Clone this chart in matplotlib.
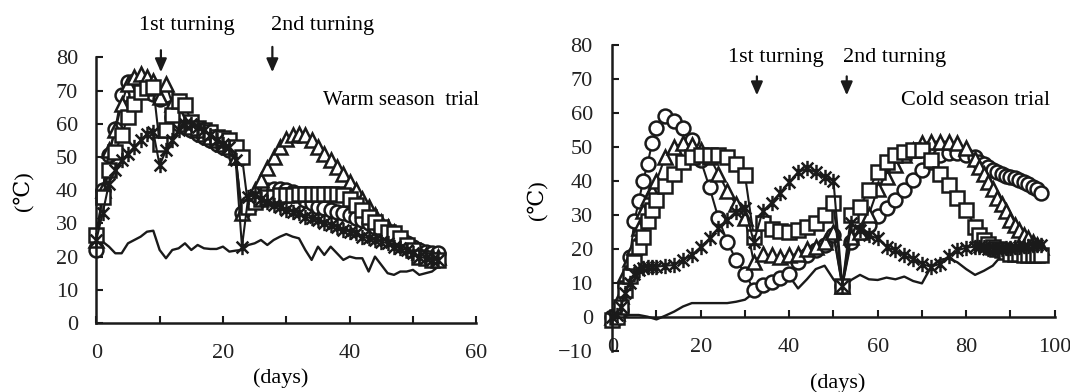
import numpy as np
import matplotlib
matplotlib.use("Agg")
import matplotlib.pyplot as plt
from matplotlib.path import Path

plt.rcParams["font.family"] = ["Liberation Serif", "DejaVu Serif", "DejaVu Sans"]
plt.rcParams["axes.unicode_minus"] = True

# ---- warm season trial (daily) ----
w_days = list(range(0, 55))
w_circle = [22, 40, 50.5, 58.5, 68.7, 72.5, 73, 72, 70, 69, 67.5, 68.7, 62, 60, 59, 58, 57, 56, 55, 54,
            53, 52, 50, 33, 36, 38, 39.5, 40, 40.5, 40.5, 40, 39.5, 39, 37, 36, 35, 34.5, 34, 33.5, 33,
            32.5, 31.5, 31, 30, 29, 28, 27, 26, 25, 24, 23, 22, 21.5, 21, 21]
w_triangle = [25, 40, 52, 58, 66, 72, 74, 75, 74, 73, 68, 72, 66, 63, 60, 59, 58, 57, 56, 55,
              54, 53, 50, 33, 36, 40, 43, 46.6, 50, 53, 55.5, 56.6, 57, 56.5, 55, 53, 51, 49, 47, 45,
              42.5, 40, 37.5, 35, 32.5, 30.5, 29, 27.5, 26, 24.5, 23, 21.5, 20.5, 20, 20]
w_square = [26.5, 38, 46, 51.5, 56.6, 62, 66, 69.7, 70.7, 71, 54, 58, 62.6, 67, 65.6, 60.6, 58.6, 58, 57.6, 56,
            55.6, 55, 53, 50, 35, 36.5, 37.5, 38, 38, 38.5, 38.5, 38.5, 39, 39, 39, 39, 39, 39, 39, 38.5,
            37.5, 35.5, 34, 32, 30.5, 29, 27.5, 27, 25.5, 23.5, 22, 20, 19.5, 19, 19]
w_star = [25, 33, 42, 46, 49, 51, 53, 55, 57, 57.5, 47.5, 52, 55, 58, 60, 60, 59, 58, 56.5, 55,
          54, 53, 49, 23, 38, 38.5, 37.5, 36.5, 35.5, 35, 34, 33.5, 33, 32, 31.5, 31, 30, 29.5, 29, 28,
          27.5, 27, 26, 25.5, 25, 24.5, 24, 23, 22.5, 22, 21, 20, 19.5, 19, 19]
w_air = [22, 24.5, 23, 21, 21, 24, 25, 26, 27.5, 27.8, 22, 19.5, 22, 22.5, 24, 22, 23.5, 22.5, 22.3, 22.3,
         23, 21.5, 21.8, 22, 23.5, 24, 25, 23.5, 25, 26, 26.8, 26, 25.5, 22, 19, 23, 20.5, 23, 21, 19,
         20, 19.5, 19.5, 15.5, 20, 17.5, 15, 14.5, 15.5, 15.5, 16, 14.5, 15, 15.5, 17]

# ---- cold season trial ----
c_days = [0, 1, 2, 3, 4, 5, 6, 7, 8, 9, 10, 12, 14, 16, 18, 20, 22, 24, 26, 28, 30, 32, 34, 36, 38, 40,
          42, 44, 46, 48, 50, 52, 54, 56, 58, 60, 62, 64, 66, 68, 70, 72, 74, 76, 78, 80, 82, 83, 84,
          85, 86, 87, 88, 89, 90, 91, 92, 93, 94, 95, 96, 97]
c_circle = [0, 0, 2, 9, 17.5, 28, 34, 40, 45, 51, 55.5, 59, 57.5, 55.5, 52, 46, 38, 29, 22, 16.7, 12.7, 8,
            9.3, 10.3, 11.3, 12.5, 16, 18, 19.5, 21, 24, 9, 22, 25, 27, 29.5, 32, 34.3, 37.3, 40.2, 43.1,
            45.6, 47.5, 48, 48, 47.5, 47, 45.5, 45, 44, 43, 42.5, 42, 41.5, 41, 40.7, 40.3, 39.5, 39, 38,
            37.5, 36.5]
c_triangle = [0, 1, 6, 12.7, 17, 20.6, 26, 31, 35, 37, 40, 47, 50, 51, 50.5, 49, 47, 42, 37, 33, 29, 16,
              18.5, 18, 17.6, 18, 18.5, 20, 20.5, 22, 25, 9, 23.5, 25, 30, 37.5, 41, 44.5, 47.5, 49, 51,
              51.5, 51.5, 51.5, 51, 49.5, 46.5, 44, 42, 39.7, 37.5, 35, 33, 31, 28.5, 27, 25.5, 24, 23,
              22, 21, 20.5]
c_square = [-1, 0, 3, 8, 12, 16, 20.5, 23.5, 28, 31.5, 34.3, 38.5, 42, 45.5, 47, 47.5, 47.5, 47.5, 47, 45,
            41.7, 23.5, 27.5, 25.8, 25.3, 25, 25.5, 26.5, 27.5, 30, 33.3, 9, 30, 32.4, 37.3, 42.6, 45.6,
            47.5, 48.5, 49, 49, 46, 42, 38.7, 34.8, 31.4, 26.5, 24, 22.5, 21.5, 20.6, 20, 19.5, 19, 18.5,
            18.5, 18.3, 18.2, 18, 18, 18, 18]
c_star = [0, 0.5, 3, 7, 10, 12.5, 13.8, 14.2, 14.7, 14.7, 14.7, 15, 15.2, 16.7, 18.1, 20.5, 23, 26, 28.4,
          30.9, 32, 22, 31, 33.5, 36.5, 39.5, 42.5, 43.6, 42.5, 41, 40, 9, 27.5, 25.5, 24, 23, 20.5, 19.5,
          18, 17, 15.5, 14.7, 15.5, 17.8, 19.5, 20.3, 20.6, 20.5, 20.5, 20, 20, 19.8, 20, 20.2, 20.3, 20.5,
          20.5, 20.7, 20.8, 21, 21, 21]
c_air_days = [0, 2, 4, 6, 8, 10, 12, 14, 16, 18, 20, 22, 24, 26, 28, 30, 31, 32, 34, 36, 38, 40, 42, 44,
              46, 48, 50, 52, 54, 56, 58, 60, 62, 64, 66, 68, 70, 72, 74, 76, 78, 80, 82, 84, 86, 88, 90,
              92, 94, 96, 97]
c_air = [0, 0, 0.5, 0.5, 0, -0.8, 0.3, 1.5, 3, 4, 4, 4, 4, 4, 4.4, 5, 6, 7.5, 8, 9, 11, 12, 8.3, 11,
         14, 15, 11, 8, 10.8, 12.3, 11, 10.8, 11.5, 11, 11.8, 10.5, 9.8, 14.5, 16.7, 17.2, 16, 14, 12.3,
         13.5, 15, 18, 18, 18.5, 18, 18.5, 18.5]

# excel-like "*" marker: x with a vertical bar
star = Path([(-1, -1), (1, 1), (-1, 1), (1, -1), (0, -1.3), (0, 1.3)],
            [Path.MOVETO, Path.LINETO, Path.MOVETO, Path.LINETO, Path.MOVETO, Path.LINETO])

K = "#1a1a1a"
mk = dict(color=K, lw=1.5, mfc="white", mec=K, mew=1.8, ms=10, clip_on=False)


def draw(ax, days, circ, tri, sq, st, air_days, air):
    ax.plot(air_days, air, color=K, lw=1.7, clip_on=False)
    ax.plot(days, circ, marker="o", **mk)
    ax.plot(days, tri, marker="^", **mk)
    ax.plot(days, sq, marker="s", **mk)
    ax.plot(days, st, marker=star, color=K, lw=1.5, mec=K, mew=1.8, ms=11, clip_on=False)
    for s in ["top", "right"]:
        ax.spines[s].set_visible(False)
    for s in ["left", "bottom"]:
        ax.spines[s].set_linewidth(1.8)
        ax.spines[s].set_color(K)
    ax.tick_params(which="both", direction="in", length=5, width=1.5, color=K,
                   labelsize=16, labelcolor="#222222")
    ax.tick_params(axis="x", which="both", pad=15)
    ax.tick_params(axis="y", pad=13)
    ax.set_facecolor("none")


fig = plt.figure(figsize=(10.7, 3.92), dpi=100)

# left panel
ax1 = fig.add_axes([96.3 / 1070, (392 - 323) / 392, 380 / 1070, 265.6 / 392])
draw(ax1, w_days, w_circle, w_triangle, w_square, w_star, w_days, w_air)
ax1.set_xlim(0, 60)
ax1.set_ylim(0, 80)
ax1.set_xticks([0, 20, 40, 60])
ax1.set_xticks([10, 30, 50], minor=True)
ax1.set_yticks(range(0, 81, 10))

arw = dict(arrowstyle="-|>,head_width=0.35,head_length=0.8", color=K, lw=1.6)
ax1.annotate("", xy=(10.2, 74.7), xytext=(10.2, 83), arrowprops=arw, annotation_clip=False)
ax1.annotate("", xy=(27.8, 74.7), xytext=(27.8, 84), arrowprops=arw, annotation_clip=False)
ax1.text(14.3, 89.5, "1st turning", ha="center", va="center", fontsize=16, clip_on=False)
ax1.text(35.7, 89.5, "2nd turning", ha="center", va="center", fontsize=16, clip_on=False)
ax1.text(35.8, 67, "Warm season  trial", ha="left", va="center", fontsize=15, clip_on=False)

# right panel
ax2 = fig.add_axes([612.2 / 1070, (392 - 350.7) / 392, 442.5 / 1070, 306 / 392])
draw(ax2, c_days, c_circle, c_triangle, c_square, c_star, c_air_days, c_air)
ax2.set_xlim(0, 100)
ax2.set_ylim(-10, 80)
ax2.spines["bottom"].set_position(("data", 0))
ax2.set_xticks([0, 20, 40, 60, 80, 100])
ax2.set_xticks([10, 30, 50, 70, 90], minor=True)
ax2.set_yticks(range(-10, 81, 10))
ax2.tick_params(axis="y", pad=14)

ax2.annotate("", xy=(32.7, 64.3), xytext=(32.7, 71.5), arrowprops=arw, annotation_clip=False)
ax2.annotate("", xy=(53, 64.3), xytext=(53, 71.5), arrowprops=arw, annotation_clip=False)
ax2.text(37, 76.1, "1st turning", ha="center", va="center", fontsize=16)
ax2.text(63.7, 76.1, "2nd turning", ha="center", va="center", fontsize=16)
ax2.text(82.1, 63.7, "Cold season trial", ha="center", va="center", fontsize=16)

# axis titles
fig.text(23 / 1070, 1 - 191 / 392, "(\u2103)", rotation=90, ha="center", va="center", fontsize=16)
fig.text(537 / 1070, 1 - 200 / 392, "(\u2103)", rotation=90, ha="center", va="center", fontsize=16)
fig.text(281 / 1070, 1 - 378 / 392, "(days)", ha="center", va="center", fontsize=16)
fig.text(838 / 1070, 1 - 383 / 392, "(days)", ha="center", va="center", fontsize=16)

fig.savefig("out.png", dpi=100, facecolor="white")
